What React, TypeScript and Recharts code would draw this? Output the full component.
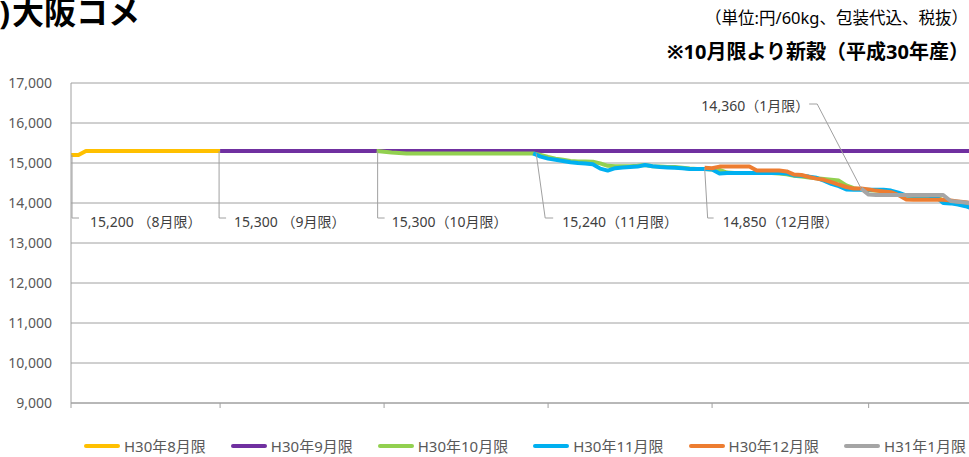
import React from "react";
import { LineChart, Line, XAxis, YAxis, CartesianGrid, LabelList } from "recharts";

// trading days shown on the x axis (index 0 .. 121), ticks at month starts
const DAYS = 122;
const monthTicks = [0, 20, 42, 64, 86, 107];
const yTicks = [9000, 10000, 11000, 12000, 13000, 14000, 15000, 16000, 17000];

// H30年8月限 from day 0
const aug = [
  15200, 15200, 15300, 15300, 15300, 15300, 15300, 15300, 15300, 15300,
  15300, 15300, 15300, 15300, 15300, 15300, 15300, 15300, 15300, 15300,
  15300,
];

// H30年9月限 from day 20
const sep = [
  15300, 15300, 15300, 15300, 15300, 15300, 15300, 15300, 15300, 15300,
  15300, 15300, 15300, 15300, 15300, 15300, 15300, 15300, 15300, 15300,
  15300, 15300, 15300, 15300, 15300, 15300, 15300, 15300, 15300, 15300,
  15300, 15300, 15300, 15300, 15300, 15300, 15300, 15300, 15300, 15300,
  15300, 15300, 15300, 15300, 15300, 15300, 15300, 15300, 15300, 15300,
  15300, 15300, 15300, 15300, 15300, 15300, 15300, 15300, 15300, 15300,
  15300, 15300, 15300, 15300, 15300, 15300, 15300, 15300, 15300, 15300,
  15300, 15300, 15300, 15300, 15300, 15300, 15300, 15300, 15300, 15300,
  15300, 15300, 15300, 15300, 15300, 15300, 15300, 15300, 15300, 15300,
  15300, 15300, 15300, 15300, 15300, 15300, 15300, 15300, 15300, 15300,
  15300, 15300,
];

// H30年10月限 from day 41
const oct = [
  15300, 15280, 15260, 15250,
  15240, 15240, 15240, 15240, 15240, 15240, 15240, 15240, 15240,
  15240, 15240, 15240, 15240, 15240, 15240, 15240, 15240, 15240,
  15200, 15150, 15110, 15080, 15050, 15040, 15040, 15030, 14990, 14930,
  14920, 14920, 14920, 14930, 14950, 14920, 14910, 14900, 14900, 14880,
  14860, 14850, 14850, 14840, 14830, 14760, 14750, 14750, 14750, 14750,
  14750, 14750, 14740, 14720, 14680, 14660, 14640, 14620, 14600, 14580,
  14560, 14440, 14370, 14340, 14320, 14310, 14300, 14280, 14220, 14190,
  14180, 14180, 14180, 14170, 14060, 14040, 14020, 14000, 13980,
];

// H30年11月限 from day 62
const nov = [
  15240, 15160, 15110, 15080, 15050, 15020, 15000, 14990, 14970, 14860,
  14810, 14870, 14890, 14900, 14910, 14950, 14920, 14900, 14890, 14880,
  14870, 14850, 14850, 14850, 14840, 14740, 14750, 14750, 14750, 14750,
  14750, 14750, 14750, 14750, 14740, 14690, 14680, 14660, 14630, 14560,
  14480, 14420, 14340, 14330, 14330, 14330, 14330, 14330, 14310, 14260,
  14190, 14180, 14180, 14180, 14160, 14000, 13990, 13960, 13920, 13860,
];

// H30年12月限 from day 85
const dec = [
  14880, 14870, 14910, 14910, 14910, 14910, 14910, 14810, 14810, 14810,
  14810, 14790, 14710, 14700, 14650, 14610, 14580, 14520, 14460, 14400,
  14360, 14360, 14340, 14310, 14290, 14270, 14200, 14090, 14080, 14080,
  14080, 14080, 14080, 14060, 14040, 14020, 13990,
];

// H31年1月限 from day 106
const jan = [
  14360, 14210, 14200, 14200, 14200, 14200, 14200, 14200, 14200, 14200,
  14200, 14200, 14050, 14030, 14010, 13990,
];

const series = [
  { key: "aug", name: "H30年8月限", color: "#FFC000", start: 0, values: aug },
  { key: "sep", name: "H30年9月限", color: "#7030A0", start: 20, values: sep },
  { key: "oct", name: "H30年10月限", color: "#92D050", start: 41, values: oct },
  { key: "nov", name: "H30年11月限", color: "#00B0F0", start: 62, values: nov },
  { key: "dec", name: "H30年12月限", color: "#ED7D31", start: 85, values: dec },
  { key: "jan", name: "H31年1月限", color: "#A5A5A5", start: 106, values: jan },
];

// start-of-contract callouts (offsets are px from the first point)
const callouts: Record<string, any> = {
  aug: { text: "15,200 （8月限）", at: 13625, sDx: 1, eDx: 1, lDx: 8, tDx: 19, tDy: 3, anchor: "start" },
  sep: { text: "15,300 （9月限）", at: 13625, sDx: -1, eDx: -1, lDx: 6, tDx: 14, tDy: 3, anchor: "start" },
  oct: { text: "15,300（10月限）", at: 13625, sDx: 1, eDx: 1, lDx: 8, tDx: 15, tDy: 3, anchor: "start" },
  nov: { text: "15,240（11月限）", at: 13625, sDx: 3, eDx: 12, lDx: 20, tDx: 29, tDy: 3, anchor: "start" },
  dec: { text: "14,850（12月限）", at: 13625, sDx: 0, eDx: 3, lDx: 9, tDx: 18, tDy: 3, anchor: "start" },
  jan: { text: "14,360（1月限）", at: 16475, sDx: 0, eDx: -44, lDx: -52, tDx: -52, tDy: 1, anchor: "end" },
};

const FONT = '"Noto Sans", "Noto Sans CJK JP", sans-serif';
const GRID = "#a0a0a0";
const PLOT_TOP = 83;
const PLOT_H = 320;
const Y_MIN = 9000;
const Y_MAX = 17000;

const yPx = (v: number) => PLOT_TOP + ((Y_MAX - v) / (Y_MAX - Y_MIN)) * PLOT_H;

const rows = Array.from({ length: DAYS }, (_, i) => {
  const r: Record<string, number | null> = { day: i };
  series.forEach((s) => {
    const v = s.values[i - s.start];
    r[s.key] = v === undefined ? null : v;
  });
  return r;
});

function startLabel(key: string, start: number) {
  const c = callouts[key];
  return (props: any) => {
    const { x, y, index } = props;
    if (index !== start || x == null || y == null) return null;
    const ey = yPx(c.at);
    return (
      <g>
        <polyline
          points={`${x + c.sDx},${y} ${x + c.eDx},${ey} ${x + c.lDx},${ey}`}
          fill="none"
          stroke={GRID}
          strokeWidth={1}
        />
        <text
          x={x + c.tDx}
          y={ey + c.tDy}
          textAnchor={c.anchor}
          dominantBaseline="central"
          fontSize={14}
          fontFamily={FONT}
          fill="#404040"
        >
          {c.text}
        </text>
      </g>
    );
  };
}

export default function App() {
  return (
    <div
      style={{
        position: "fixed",
        left: 0,
        top: 0,
        width: 969,
        height: 457,
        overflow: "hidden",
        background: "#fff",
        fontFamily: FONT,
      }}
    >
      <div style={{ position: "absolute", left: 12, top: -4, fontSize: 32, fontWeight: 700, lineHeight: "32px", color: "#000", whiteSpace: "nowrap" }}>
        <span style={{ position: "absolute", right: "100%", marginRight: 2 }}>(5)</span>大阪コメ
      </div>
      <div style={{ position: "absolute", right: 1, top: 7, fontSize: 16.5, lineHeight: "22px", color: "#000", whiteSpace: "nowrap" }}>
        （単位:円/60kg、包装代込、税抜）
      </div>
      <div style={{ position: "absolute", right: 0, top: 40, fontSize: 20, fontWeight: 700, lineHeight: "24px", color: "#000", whiteSpace: "nowrap" }}>
        ※10月限より新穀（平成30年産）
      </div>

      <div style={{ position: "absolute", left: 0, top: 0 }}>
        <LineChart
          width={980}
          height={457}
          data={rows}
          margin={{ top: PLOT_TOP, right: 7, bottom: 457 - PLOT_TOP - PLOT_H - 30, left: 0 }}
        >
          <CartesianGrid horizontal vertical={false} stroke={GRID} strokeWidth={1} />
          <XAxis
            type="number"
            dataKey="day"
            domain={[0, DAYS - 1]}
            ticks={monthTicks}
            tickFormatter={() => ""}
            tickSize={5}
            height={30}
            axisLine={{ stroke: GRID }}
            tickLine={{ stroke: GRID }}
          />
          <YAxis
            domain={[Y_MIN, Y_MAX]}
            ticks={yTicks}
            width={71}
            tickSize={6}
            tickMargin={13}
            tickLine={false}
            axisLine={{ stroke: GRID }}
            tick={{ fontSize: 14, fill: "#595959", fontFamily: FONT }}
            tickFormatter={(v: number) => v.toLocaleString("en-US")}
            interval={0}
          />
          {series.map((s) => (
            <Line
              key={s.key}
              dataKey={s.key}
              type="linear"
              stroke={s.color}
              strokeWidth={4}
              strokeLinejoin="round"
              dot={false}
              activeDot={false}
              isAnimationActive={false}
            >
              <LabelList dataKey={s.key} content={startLabel(s.key, s.start)} />
            </Line>
          ))}
        </LineChart>
      </div>

      <div style={{ position: "absolute", left: 84, top: 436, display: "flex", gap: 25, alignItems: "center", fontSize: 15, color: "#595959", whiteSpace: "nowrap" }}>
        {series.map((s) => (
          <div key={s.key} style={{ display: "flex", alignItems: "center", gap: 4 }}>
            <span style={{ display: "inline-block", width: 36, height: 4, borderRadius: 2, background: s.color }} />
            <span style={{ lineHeight: "20px" }}>{s.name}</span>
          </div>
        ))}
      </div>
    </div>
  );
}
